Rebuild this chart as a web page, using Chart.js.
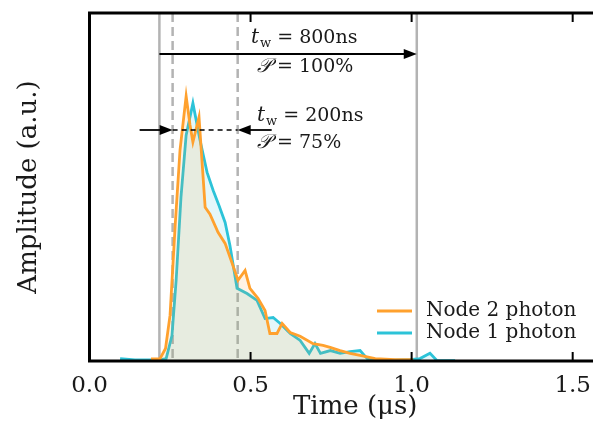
<!DOCTYPE html>
<html lang="en">
<head>
  <meta charset="UTF-8">
  <title>Photon amplitude vs time</title>
  <script src="https://cdn.jsdelivr.net/npm/chart.js"></script>
  <style>
    html, body { margin: 0; padding: 0; background: #fff; overflow: hidden; }
    canvas { display: block; }
  </style>
</head>
<body>
  <canvas id="photonChart" width="621" height="423"></canvas>

  <script>
    // Datos (tiempo en us, amplitud normalizada)
    const node2Time = [0.191, 0.219, 0.236, 0.250, 0.266, 0.281, 0.300, 0.312, 0.321, 0.340,
      0.359, 0.374, 0.399, 0.421, 0.442, 0.461, 0.483, 0.498, 0.523, 0.545,
      0.560, 0.582, 0.598, 0.623, 0.654, 0.694, 0.725, 0.747, 0.778, 0.809,
      0.840, 0.887, 0.949, 1.005];
    const node2Amp = [0.006, 0.007, 0.036, 0.131, 0.390, 0.606, 0.761, 0.678, 0.629, 0.701,
      0.442, 0.422, 0.370, 0.338, 0.283, 0.232, 0.260, 0.209, 0.180, 0.145,
      0.079, 0.079, 0.108, 0.082, 0.071, 0.050, 0.045, 0.039, 0.030, 0.022,
      0.016, 0.007, 0.004, 0.004];

    const node1Time = [0.095, 0.141, 0.219, 0.238, 0.256, 0.269, 0.284, 0.300, 0.321, 0.343,
      0.365, 0.384, 0.402, 0.421, 0.436, 0.458, 0.489, 0.520, 0.545, 0.570,
      0.592, 0.623, 0.654, 0.682, 0.700, 0.717, 0.748, 0.778, 0.809, 0.840,
      0.862, 0.902, 0.995, 1.026, 1.057, 1.079, 1.135];
    const node1Amp = [0.007, 0.003, 0.003, 0.007, 0.073, 0.232, 0.471, 0.649, 0.741, 0.635,
      0.542, 0.490, 0.447, 0.398, 0.332, 0.209, 0.194, 0.174, 0.122, 0.125,
      0.108, 0.079, 0.059, 0.022, 0.050, 0.022, 0.030, 0.022, 0.027, 0.030,
      0.007, 0.001, 0.004, 0.007, 0.022, 0.001, 0.001];

    const xTicks = [0, 0.5, 1.0, 1.5];
    const outerWindow = [0.217, 1.016];   // t_w = 800ns
    const innerWindow = [0.258, 0.460];   // t_w = 200ns
    const windowLabels = ['800ns', '200ns'];
    const windowProb = ['100%', '75%'];

    const ORANGE = '#ffa12e';
    const CYAN = '#2cc3d8';
    const SERIF = "'DejaVu Serif', serif";

    function toPoints(ts, as) {
      return ts.map((t, i) => ({ x: t, y: as[i] }));
    }

    function line(ctx, x1, y1, x2, y2) {
      ctx.beginPath();
      ctx.moveTo(x1, y1);
      ctx.lineTo(x2, y2);
      ctx.stroke();
    }

    function arrowHead(ctx, tipX, y, dir) {
      ctx.beginPath();
      ctx.moveTo(tipX, y);
      ctx.lineTo(tipX - dir * 13, y - 5);
      ctx.lineTo(tipX - dir * 13, y + 5);
      ctx.closePath();
      ctx.fill();
    }

    function drawTw(ctx, x, y, value) {
      ctx.textBaseline = 'middle';
      ctx.textAlign = 'left';
      ctx.font = 'italic 20px ' + SERIF;
      ctx.fillText('t', x, y);
      let w = ctx.measureText('t').width;
      ctx.font = '13px ' + SERIF;
      ctx.fillText('w', x + w + 1, y + 6);
      w += ctx.measureText('w').width + 1;
      ctx.font = '19px ' + SERIF;
      ctx.fillText(' = ' + value, x + w, y);
    }

    function drawProb(ctx, x, y, value) {
      ctx.textBaseline = 'middle';
      ctx.textAlign = 'left';
      ctx.font = 'italic 20px ' + SERIF;
      ctx.fillText('𝒫', x, y);
      const w = ctx.measureText('𝒫').width;
      ctx.font = '19px ' + SERIF;
      ctx.fillText(' = ' + value, x + w, y);
    }

    const overlay = {
      id: 'overlay',
      beforeDatasetsDraw(chart) {
        const { ctx, chartArea: a, scales: { x } } = chart;
        ctx.save();
        ctx.strokeStyle = '#b3b3b3';
        ctx.lineWidth = 2.5;
        outerWindow.forEach(t => {
          const px = x.getPixelForValue(t);
          line(ctx, px, a.top, px, a.bottom);
        });
        ctx.setLineDash([9, 5]);
        innerWindow.forEach(t => {
          const px = x.getPixelForValue(t);
          line(ctx, px, a.top, px, a.bottom);
        });
        ctx.restore();
      },
      afterDraw(chart) {
        const { ctx, chartArea: a, scales: { x } } = chart;
        ctx.save();

        // marco y ticks hacia dentro
        ctx.strokeStyle = '#000';
        ctx.lineWidth = 3;
        ctx.beginPath();
        ctx.moveTo(a.right + 5, a.top);
        ctx.lineTo(a.left, a.top);
        ctx.lineTo(a.left, a.bottom);
        ctx.lineTo(a.right + 5, a.bottom);
        ctx.stroke();
        ctx.lineWidth = 2;
        xTicks.forEach(v => {
          const px = x.getPixelForValue(v);
          line(ctx, px, a.bottom, px, a.bottom - 9);
          line(ctx, px, a.top, px, a.top + 9);
        });

        // flechas
        ctx.fillStyle = '#000';
        ctx.lineWidth = 1.8;
        const o1 = x.getPixelForValue(outerWindow[0]);
        const o2 = x.getPixelForValue(outerWindow[1]);
        line(ctx, o1, 54, o2 - 10, 54);
        arrowHead(ctx, o2, 54, 1);

        const i1 = x.getPixelForValue(innerWindow[0]);
        const i2 = x.getPixelForValue(innerWindow[1]);
        line(ctx, i1 - 33, 130, i1 - 10, 130);
        arrowHead(ctx, i1, 130, 1);
        line(ctx, i2 + 34, 130, i2 + 10, 130);
        arrowHead(ctx, i2, 130, -1);
        ctx.setLineDash([5, 4]);
        ctx.lineWidth = 1.5;
        line(ctx, i1, 130, i2, 130);
        ctx.setLineDash([]);

        // textos
        ctx.fillStyle = '#1a1a1a';
        drawTw(ctx, 251, 38, windowLabels[0]);
        drawProb(ctx, 257, 67, windowProb[0]);
        drawTw(ctx, 257, 116, windowLabels[1]);
        drawProb(ctx, 257, 143, windowProb[1]);

        // leyenda
        chart.data.datasets.forEach((ds, i) => {
          const ly = 311 + i * 22;
          ctx.strokeStyle = ds.borderColor;
          ctx.lineWidth = 3;
          line(ctx, 377, ly, 412, ly);
          ctx.fillStyle = '#1a1a1a';
          ctx.font = '20px ' + SERIF;
          ctx.textBaseline = 'middle';
          ctx.fillText(ds.label, 426, ly);
        });
        ctx.restore();
      }
    };

    const ctx = document.getElementById('photonChart').getContext('2d');
    new Chart(ctx, {
      type: 'line',
      data: {
        datasets: [
          {
            label: 'Node 2 photon',
            data: toPoints(node2Time, node2Amp),
            borderColor: ORANGE,
            backgroundColor: 'rgba(255, 160, 40, 0.12)',
            fill: 'origin',
            borderWidth: 2.8,
            pointRadius: 0,
            tension: 0
          },
          {
            label: 'Node 1 photon',
            data: toPoints(node1Time, node1Amp),
            borderColor: CYAN,
            backgroundColor: 'rgba(30, 190, 210, 0.12)',
            fill: 'origin',
            borderWidth: 2.8,
            pointRadius: 0,
            tension: 0
          }
        ]
      },
      options: {
        responsive: false,
        animation: false,
        layout: { padding: { top: 13, left: 0, right: 0, bottom: 0 }, autoPadding: false },
        plugins: { legend: { display: false }, tooltip: { enabled: false } },
        scales: {
          x: {
            type: 'linear',
            min: 0,
            max: 1.65,
            afterBuildTicks: s => { s.ticks = xTicks.map(v => ({ value: v })); },
            afterFit: s => { s.height = 62; },
            grid: { display: false },
            border: { display: false },
            ticks: {
              font: { family: SERIF, size: 23 },
              color: '#1a1a1a',
              padding: 3,
              maxRotation: 0,
              autoSkip: false,
              callback: v => Number(v).toFixed(1)
            },
            title: {
              display: true,
              text: 'Time (μs)',
              font: { family: SERIF, size: 26 },
              color: '#1a1a1a',
              padding: { top: 1, bottom: 0 }
            }
          },
          y: {
            min: 0,
            max: 1,
            afterFit: s => { s.width = 89.5; },
            grid: { display: false },
            border: { display: false },
            ticks: { display: false },
            title: {
              display: true,
              text: 'Amplitude (a.u.)',
              font: { family: SERIF, size: 26 },
              color: '#1a1a1a',
              padding: { top: 14, bottom: 0 }
            }
          }
        }
      },
      plugins: [overlay]
    });
  </script>
</body>
</html>
